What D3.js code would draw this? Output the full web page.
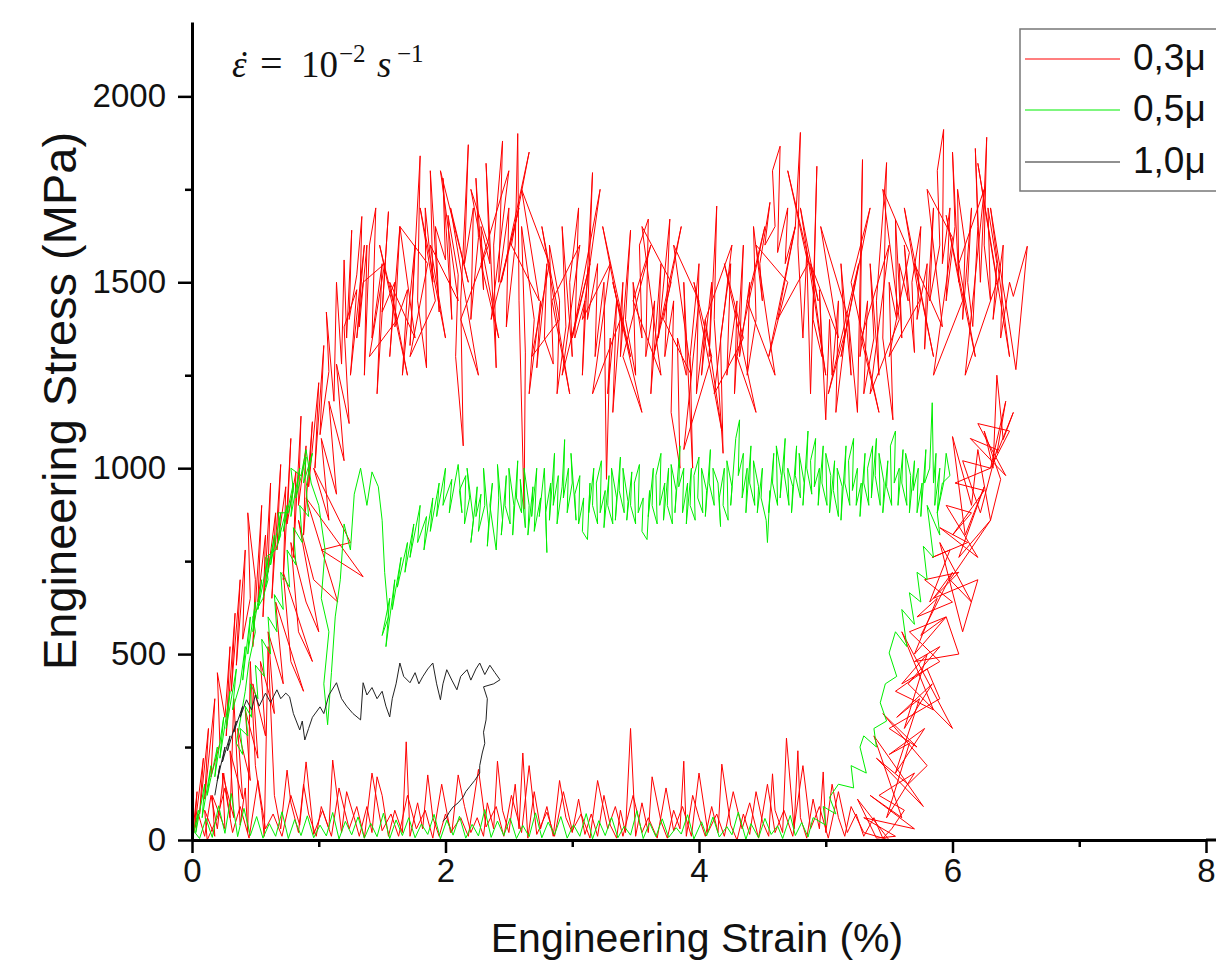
<!DOCTYPE html>
<html>
<head>
<meta charset="utf-8">
<title>Engineering Stress - Strain</title>
<script src="https://d3js.org/d3.v7.min.js"></script>
<style>
  body { margin: 0; background: #fff; }
  svg { display: block; background: #fff; }
  .axis path, .axis line { stroke: #000; }
  .axis text { font-family: "Liberation Sans", Arial, sans-serif; font-size: 33px; fill: #111; }
  .label { font-family: "Liberation Sans", Arial, sans-serif; fill: #111; }
</style>
</head>
<body>
<svg id="chart" width="1216" height="974"></svg>
<script>
// ticks
const xMajor = [0, 2, 4, 6, 8];
const xMinor = [1, 3, 5, 7];
const yMajor = [0, 500, 1000, 1500, 2000];
const yMinor = [250, 750, 1250, 1750];

// legend
const seriesNames = ["0,3μ", "0,5μ", "1,0μ"];
const seriesColors = ["#ff0000", "#00ee00", "#222222"];

// 0,3 µm  (strain %, stress MPa)
const red03 = [
  // loading, left flank
  [0,0],[0.04,130],[0.02,30],[0.09,220],[0.06,70],[0.13,300],[0.1,110],[0.18,380],[0.15,170],[0.22,260],
  [0.2,450],[0.26,330],[0.3,520],[0.27,280],[0.34,610],[0.31,400],[0.38,700],[0.35,470],[0.42,780],[0.4,540],
  [0.46,650],[0.44,880],[0.5,700],[0.48,520],[0.55,900],[0.52,640],[0.58,820],[0.56,600],[0.62,960],[0.6,720],
  [0.66,880],[0.63,650],[0.7,1010],[0.67,780],[0.74,950],[0.72,700],[0.78,1080],[0.75,850],[0.82,990],[0.8,760],
  [0.86,1140],[0.84,900],[0.9,1060],[0.88,820],[0.95,1125],[0.92,950],[1.0,1230],[0.97,1000],[1.04,1330],[1.01,1090],
  [1.08,1260],[1.06,1420],[1.12,1180],[1.14,1500],[1.18,1280],[1.2,1560],[1.22,1350],[1.26,1640],[1.24,1400],[1.3,1520],
  [1.34,1677],[1.32,1380],[1.38,1600],[1.36,1250],
  // plateau, first pass
  [1.4,1600],[1.45,1700],[1.42,1350],[1.5,1550],[1.46,1200],[1.55,1690],[1.5,1420],[1.6,1500],[1.56,1300],[1.64,1650],
  [1.6,1380],[1.7,1480],[1.66,1250],[1.76,1600],[1.72,1330],[1.8,1840],[1.78,1450],[1.85,1270],[1.84,1700],[1.9,1500],
  [1.88,1800],[1.95,1420],[1.92,1650],[2.0,1560],[1.98,1780],[2.05,1400],[2.02,1680],[2.1,1520],[2.08,1300],[2.14,1060],
  [2.12,1450],[2.18,1870],[2.15,1550],[2.22,1700],[2.2,1400],[2.26,1620],[2.24,1780],[2.3,1480],[2.28,1650],[2.35,1550],
  [2.32,1820],[2.4,1270],[2.38,1600],[2.45,1880],[2.42,1500],[2.5,1700],[2.48,1380],[2.55,1600],[2.57,1900],[2.58,1450],
  [2.62,890],[2.63,1310],[2.6,1650],[2.7,1400],[2.66,1200],[2.75,1450],[2.72,1270],[2.8,1550],[2.78,1350],[2.85,1280],
  [2.82,1600],[2.9,1450],[2.88,1200],[2.95,1380],[2.92,1650],[3.0,1300],[2.98,1500],[3.05,1700],[3.02,1350],[3.1,1450],
  [3.08,1250],[3.16,1795],[3.12,1400],[3.2,1550],[3.18,1300],[3.25,1500],[3.27,970],[3.3,1350],[3.28,1200],[3.35,1450],
  [3.32,1150],[3.4,1500],[3.38,1300],[3.46,1640],[3.42,1400],[3.5,1250],[3.48,1500],[3.55,1350],[3.53,1600],[3.6,1670],
  [3.58,1300],[3.65,1450],[3.62,1200],[3.7,1550],[3.68,1350],[3.77,1670],[3.73,1300],[3.8,1450],[3.78,1150],[3.85,1000],
  [3.83,1350],[3.9,1250],[3.88,1500],[3.95,1000],[3.93,1300],[4.0,1550],[3.98,1200],[4.05,1400],[4.02,1250],[4.1,1500],
  [4.08,1300],[4.14,1705],[4.12,1400],[4.19,1040],[4.17,1350],[4.25,1550],[4.22,1250],[4.3,1450],[4.28,1200],[4.35,1600],
  [4.32,1300],[4.4,1500],[4.38,1250],[4.45,1400],[4.43,1650],[4.5,1450],[4.48,1550],[4.56,1715],[4.52,1600],[4.6,1650],
  [4.58,1800],[4.64,1866],[4.62,1580],[4.7,1700],[4.68,1550],[4.76,1650],[4.8,1903],[4.78,1600],[4.82,1350],[4.85,1580],
  [4.88,1200],[4.93,1812],[4.9,1400],[4.97,1300],[4.95,1480],[5.0,1130],[5.03,1400],[5.05,1250],[5.1,1450],[5.08,1150],
  [5.15,1350],[5.12,1550],[5.2,1250],[5.18,1400],[5.25,1150],[5.29,1830],[5.27,1300],[5.33,1450],[5.3,1200],[5.38,1350],
  [5.35,1550],[5.42,1250],[5.4,1450],[5.48,1822],[5.45,1350],[5.53,1130],[5.5,1500],[5.56,1400],[5.55,1670],[5.6,1350],
  [5.58,1550],[5.65,1450],[5.62,1600],[5.7,1311],[5.68,1500],[5.75,1650],[5.72,1400],[5.8,1550],[5.78,1320],[5.85,1700],
  [5.82,1450],[5.9,1600],[5.88,1800],[5.93,1911],[5.92,1550],[5.98,1700],[5.95,1450],[6.02,1650],[6.0,1850],[6.05,1500],
  [6.04,1750],[6.1,1600],[6.08,1400],[6.15,1700],[6.12,1500],[6.16,1381],[6.2,1650],[6.18,1860],[6.22,1500],[6.27,1890],
  [6.25,1600],[6.3,1450],[6.28,1700],[6.35,1550],[6.32,1400],[6.4,1600],[6.38,1350],[6.45,1500],[6.48,1462],[6.59,1597],
  [6.5,1265],[6.45,1380],
  // plateau, second pass (back)
  [6.3,1700],[6.45,1300],[6.2,1820],[6.35,1500],[6.1,1250],[6.25,1750],[6.05,1550],[6.18,1300],[5.95,1680],[6.08,1450],
  [5.85,1250],[6.0,1620],[5.8,1750],[5.92,1380],[5.7,1550],[5.85,1300],[5.62,1700],[5.74,1450],[5.5,1300],[5.66,1580],
  [5.45,1750],[5.58,1400],[5.35,1200],[5.5,1600],[5.28,1350],[5.42,1150],[5.2,1500],[5.35,1700],[5.12,1300],[5.26,1550],
  [5.02,1200],[5.18,1400],[4.96,1650],[5.1,1350],[4.88,1550],[5.0,1250],[4.8,1700],[4.94,1450],[4.7,1800],[4.86,1550],
  [4.62,1400],[4.76,1650],[4.55,1300],[4.7,1500],[4.45,1600],[4.6,1250],[4.38,1450],[4.52,1650],[4.3,1300],[4.45,1150],
  [4.2,1550],[4.35,1350],[4.12,1200],[4.26,1600],[4.05,1400],[4.18,1100],[3.96,1500],[4.1,1300],[3.88,1050],[4.0,1450],
  [3.8,1600],[3.94,1250],[3.72,1400],[3.86,1650],[3.64,1300],[3.78,1500],[3.55,1650],[3.7,1250],[3.48,1450],[3.62,1600],
  [3.4,1300],[3.55,1150],[3.32,1500],[3.46,1300],[3.24,1650],[3.38,1400],[3.16,1200],[3.3,1550],[3.08,1400],[3.22,1750],
  [3.0,1350],[3.14,1550],[2.92,1250],[3.06,1600],[2.84,1450],[2.98,1200],[2.76,1650],[2.9,1400],[2.68,1300],[2.82,1550],
  [2.6,1750],[2.74,1450],[2.52,1600],[2.66,1850],[2.44,1500],[2.58,1700],[2.36,1400],[2.5,1800],[2.28,1550],[2.42,1350],
  [2.2,1750],[2.34,1600],[2.12,1400],[2.26,1250],[2.04,1700],[2.18,1500],[1.96,1800],[2.1,1450],[1.88,1600],[2.0,1350],
  [1.8,1700],[1.92,1450],[1.72,1300],[1.86,1550],[1.64,1650],[1.76,1350],[1.56,1500],[1.7,1250],[1.48,1600],[1.62,1400],
  [1.4,1300],[1.52,1550],[1.35,1500],
  // left flank, back down
  [1.3,1350],[1.36,1600],[1.25,1250],[1.3,1480],[1.2,1380],[1.24,1120],[1.14,1280],[1.2,1020],[1.08,1180],[1.14,930],
  [1.02,1080],[1.08,860],[0.96,1000],[1.25,800],[1.02,780],[1.35,708],[0.9,920],[1.15,640],[0.96,700],[0.84,860],
  [1.0,560],[0.9,640],[0.78,800],[0.84,560],[0.95,480],[0.72,720],[0.78,480],[0.88,400],[0.66,640],[0.72,420],
  [0.6,560],[0.65,340],[0.54,480],[0.58,280],[0.48,420],[0.52,220],
  [0.42,350],[0.46,160],[0.36,300],[0.4,110],[0.3,240],[0.33,60],[0.24,180],[0.26,30],[0.16,120],[0.18,10],
  [0.1,80],[0.12,0],
  // bottom, going right
  [0.2,60],[0.26,140],[0.32,20],[0.38,90],[0.45,5],[0.52,160],[0.58,30],[0.64,70],[0.71,10],[0.78,120],
  [0.85,40],[0.9,210],[0.96,15],[1.03,80],[1.1,10],[1.16,140],[1.24,30],[1.3,90],[1.36,5],[1.42,180],
  [1.5,25],[1.57,70],[1.63,10],[1.7,120],[1.77,30],[1.84,80],[1.9,5],[1.97,150],[2.04,20],[2.12,60],
  [2.18,10],[2.26,190],[2.32,35],[2.4,90],[2.46,10],[2.52,120],[2.6,20],[2.66,200],[2.72,15],[2.8,75],
  [2.86,10],[2.93,130],[3.0,25],[3.07,70],[3.14,5],[3.2,160],[3.28,30],[3.34,90],[3.4,10],[3.48,120],
  [3.55,20],[3.6,60],[3.67,5],[3.74,140],[3.8,25],[3.87,90],[3.94,10],[4.0,180],[4.07,20],[4.14,70],
  [4.2,10],[4.27,130],[4.34,30],[4.4,100],[4.47,5],[4.54,150],[4.6,20],[4.67,80],[4.74,10],[4.82,200],
  [4.88,30],[4.95,90],[5.02,5],[5.1,130],[5.17,20],[5.24,70],[5.3,10],[5.38,60],[5.45,5],[5.52,30],
  // right flank, up
  [5.62,80],[5.42,120],[5.7,180],[5.48,60],[5.66,260],[5.5,230],[5.78,300],[5.55,180],[5.74,380],[5.56,330],
  [5.84,420],[5.62,300],[5.8,500],[5.6,420],[5.9,480],[5.66,560],[5.95,600],[5.7,500],[5.88,650],[5.72,600],
  [6.0,640],[5.78,700],[6.05,720],[5.82,640],[5.98,780],[5.84,760],[6.12,800],[5.9,840],[6.2,760],[5.95,900],
  [6.15,880],[6.0,820],[6.25,940],[6.02,960],[6.3,1000],[6.08,1020],[6.22,880],[6.35,1050],[6.14,1080],[6.42,980],
  [6.2,1120],[6.45,1100],[6.3,1000],[6.42,1180],[6.35,1040],[6.48,1150],[6.4,1077],[6.35,1250],
  // right flank, down
  [6.32,1000],[6.25,1100],[6.38,970],[6.3,860],[6.2,1050],[6.15,900],[6.0,1085],[6.1,820],[6.25,950],[6.05,760],
  [6.3,860],[5.98,700],[6.15,640],[5.9,800],[6.08,560],[6.2,700],[5.85,650],[6.0,720],[5.75,550],[5.95,600],
  [6.05,500],[5.7,480],[5.9,520],[5.65,420],[6.0,300],[5.6,560],[5.85,350],[5.55,400],[5.8,460],[5.9,380],
  [5.5,300],[5.72,250],[5.45,340],[5.8,200],[5.65,150],[5.4,220],[5.77,90],[5.38,280],[5.6,60],[5.35,120],
  [5.7,30],[5.3,60],[5.55,10],[5.4,5],[5.25,110],[5.5,0],
  // bottom, going left
  [5.3,20],[5.2,90],[5.15,10],[5.1,60],[5.05,150],[5.0,20],[4.98,183],[4.95,30],[4.9,110],[4.85,5],
  [4.8,60],[4.78,240],[4.75,30],[4.69,274],[4.66,20],[4.6,80],[4.58,178],[4.55,10],[4.5,50],[4.45,130],
  [4.4,15],[4.35,70],[4.3,0],[4.25,40],[4.18,204],[4.15,20],[4.1,90],[4.05,10],[4.0,60],[3.95,120],
  [3.9,10],[3.88,212],[3.85,30],[3.8,80],[3.75,5],[3.7,50],[3.63,170],[3.6,20],[3.55,100],[3.5,10],
  [3.46,300],[3.42,20],[3.38,80],[3.35,5],[3.3,40],[3.25,120],[3.2,10],[3.15,70],[3.1,15],[3.05,110],
  [3.0,20],[2.95,60],[2.9,160],[2.85,10],[2.8,90],[2.75,30],[2.7,130],[2.65,5],[2.61,234],[2.58,30],
  [2.55,150],[2.5,20],[2.45,80],[2.41,212],[2.38,30],[2.33,100],[2.3,10],[2.25,60],[2.2,20],[2.15,90],
  [2.1,175],[2.05,20],[2.0,70],[1.95,10],[1.9,60],[1.86,175],[1.82,30],[1.78,100],[1.72,10],[1.69,264],
  [1.66,20],[1.6,80],[1.55,10],[1.5,120],[1.46,170],[1.42,20],[1.38,90],[1.32,10],[1.28,60],[1.22,130],
  [1.18,20],[1.11,215],[1.08,30],[1.02,90],[0.98,10],[0.92,70],[0.88,150],[0.84,20],[0.78,100],[0.75,188],
  [0.7,30],[0.65,120],[0.6,520],[0.57,10],[0.55,80],[0.5,200],[0.46,480],[0.44,20],[0.42,140],[0.38,40],
  [0.33,380],[0.3,60],[0.25,180],[0.2,30],[0.15,120],[0.1,10],[0.05,70],[0,0]
];

// 0,5 µm
const green05 = [
  [0,0],[0.05,80],[0.03,20],[0.1,150],[0.08,60],[0.15,200],[0.12,120],[0.2,250],[0.18,170],[0.25,330],
  [0.22,220],[0.3,400],[0.27,300],[0.35,460],[0.32,350],[0.38,420],[0.42,520],[0.4,430],[0.46,600],[0.44,500],
  [0.5,640],[0.48,560],[0.55,700],[0.52,620],[0.6,760],[0.58,680],[0.65,820],[0.62,740],[0.7,880],[0.68,800],
  [0.75,900],[0.72,830],[0.8,960],[0.78,870],[0.85,1000],[0.82,920],[0.9,1030],[0.88,960],[0.95,1040],
  // back down the left flank and up again
  [0.9,950],[0.92,870],[0.85,900],[0.87,800],[0.8,840],[0.82,740],[0.75,780],[0.77,680],[0.7,720],[0.72,620],
  [0.65,660],[0.67,560],[0.6,600],[0.62,500],[0.55,540],[0.57,440],[0.5,470],[0.52,380],[0.46,420],[0.47,330],
  [0.42,360],[0.44,280],[0.38,300],[0.4,230],[0.35,260],[0.42,400],[0.45,480],[0.5,560],[0.48,600],[0.56,650],
  [0.6,700],[0.58,760],[0.66,780],[0.7,820],[0.68,880],[0.76,880],[0.8,940],[0.78,1000],[0.86,980],[0.9,1050],
  [0.94,960],[1.0,900],
  [1.05,780],[1.02,650],[1.08,560],[1.04,420],[1.07,310],[1.1,450],[1.13,600],[1.17,700],[1.2,850],[1.25,780],
  [1.28,930],[1.33,1000],[1.38,900],[1.42,990],[1.47,950],[1.5,860],[1.52,720],[1.55,600],[1.5,550],[1.56,650],
  [1.53,520],[1.6,700],[1.58,620],[1.65,760],[1.62,680],[1.7,800],[1.68,720],[1.75,850],[1.72,760],[1.8,900],
  [1.78,800],[1.85,870],[1.83,780],[1.9,920],[1.88,830],[1.95,960],[1.93,870],[2.0,1000],[1.98,900],[2.05,970],
  [2.03,880],
  [2.1,1010],[2.13,880],[2.11,940],[2.16,980],[2.15,850],[2.19,920],[2.17,1000],[2.22,860],[2.2,800],[2.25,950],
  [2.24,870],[2.28,930],[2.26,830],[2.31,900],[2.3,1000],[2.34,850],[2.33,790],[2.37,960],[2.35,900],[2.4,780],
  [2.42,920],[2.41,1010],[2.45,860],[2.44,820],[2.48,980],[2.47,900],[2.51,850],[2.5,1000],[2.54,900],[2.53,820],
  [2.57,1020],[2.56,920],[2.6,880],[2.59,970],[2.63,840],[2.62,1000],[2.66,900],[2.65,820],[2.69,950],[2.68,870],
  [2.72,1000],[2.7,830],[2.75,920],[2.74,870],[2.78,1000],[2.8,773],[2.79,880],[2.83,960],[2.82,860],[2.86,1040],
  [2.85,900],[2.89,980],[2.88,850],[2.92,950],[2.94,1077],[2.93,920],[2.97,1000],[2.96,880],[3.0,960],[2.99,1040],
  [3.03,860],[3.02,930],[3.06,980],[3.05,850],[3.09,920],[3.08,830],[3.12,808],[3.14,960],[3.13,880],[3.17,1000],
  [3.16,900],[3.2,850],[3.19,960],[3.23,1020],[3.22,880],[3.26,940],[3.25,840],[3.29,980],[3.28,900],[3.32,850],
  [3.31,1000],[3.35,920],[3.34,860],[3.38,1030],[3.37,940],[3.41,880],[3.4,1000],[3.44,910],[3.43,860],[3.47,990],
  [3.46,900],[3.5,850],[3.49,960],[3.53,1010],[3.52,880],[3.56,920],[3.55,830],[3.59,808],[3.61,940],[3.6,870],
  [3.64,1000],[3.63,900],[3.67,850],[3.66,980],[3.7,1040],[3.69,900],[3.73,960],[3.72,860],[3.76,1000],[3.75,900],
  [3.79,850],[3.78,1010],[3.82,940],[3.81,880],[3.85,1060],[3.84,950],[3.88,1000],[3.87,880],[3.91,960],[3.9,850],
  [3.94,1000],[3.93,900],[3.97,860],[3.96,980],[4.0,1030],[3.99,920],[4.03,880],[4.02,1000],[4.06,940],[4.05,870],
  [4.09,1050],[4.08,960],[4.12,900],[4.11,1000],[4.15,960],[4.17,843],[4.16,920],[4.2,1000],[4.19,900],[4.23,860],
  [4.22,1020],[4.26,950],[4.25,900],[4.29,1080],[4.32,1130],[4.31,980],[4.35,1040],[4.34,920],[4.38,1000],[4.37,880],
  [4.41,1060],[4.4,960],[4.44,900],[4.43,1020],[4.47,950],[4.46,880],[4.5,1000],[4.49,920],[4.53,860],[4.54,800],
  [4.56,940],[4.55,880],[4.59,1040],[4.58,960],[4.62,900],[4.61,1060],[4.65,980],[4.64,920],[4.68,1080],[4.67,990],
  [4.71,900],[4.7,1000],[4.74,950],[4.73,880],[4.77,1060],[4.76,980],[4.8,920],[4.79,1040],[4.83,960],[4.82,900],
  [4.86,1100],[4.85,1000],[4.89,930],[4.88,1020],[4.92,1080],[4.91,950],[4.95,1000],[4.94,900],[4.98,1060],[4.97,960],
  [5.01,900],[5.0,1040],[5.04,980],[5.03,880],[5.07,1020],[5.06,940],[5.1,870],[5.09,1000],[5.13,950],[5.12,860],
  [5.16,1060],[5.15,960],[5.19,900],[5.18,1020],[5.22,1080],[5.21,940],[5.25,1000],[5.24,900],[5.28,960],[5.27,870],
  [5.31,1040],[5.3,960],[5.34,900],[5.33,1000],[5.37,1060],[5.36,920],[5.4,1080],[5.39,980],[5.43,900],[5.42,1040],
  [5.46,960],[5.45,880],[5.49,1020],[5.48,950],[5.52,900],[5.51,1060],[5.55,1100],[5.54,960],[5.58,1000],[5.57,900],
  [5.61,1050],[5.6,960],[5.64,900],[5.63,1040],[5.67,980],[5.66,880],[5.7,1020],[5.69,940],[5.73,1000],[5.72,880],
  [5.76,960],[5.75,870],[5.79,1050],[5.78,960],[5.82,1000],[5.84,1176],[5.85,960],[5.87,1040],[5.86,900],[5.9,1000],
  [5.88,880],[5.93,960],[5.95,1040],[5.98,980],
  [5.92,960],[5.88,880],[5.9,820],[5.8,900],[5.85,760],[5.77,790],[5.8,700],[5.72,720],[5.75,640],[5.66,665],
  [5.7,580],[5.6,620],[5.64,520],[5.55,560],[5.5,503],[5.56,440],[5.47,420],[5.43,369],[5.48,320],[5.38,300],
  [5.4,250],[5.3,280],[5.27,250],[5.32,180],[5.2,200],[5.22,140],[5.1,150],[5.03,115],[5.08,70],[4.98,90],
  [5.0,40],[4.9,60],
  [4.86,8],[4.81,47],[4.76,12],[4.72,66],[4.66,4],[4.62,38],[4.57,15],[4.52,58],[4.47,6],[4.41,44],
  [4.37,2],[4.31,75],[4.26,14],[4.22,36],[4.16,8],[4.11,62],[4.06,11],[4.02,49],[3.96,3],[3.91,68],
  [3.86,16],[3.82,33],[3.76,7],[3.71,57],[3.66,9],[3.61,46],[3.56,4],[3.51,79],[3.46,13],[3.41,37],
  [3.36,6],[3.31,61],[3.26,12],[3.21,52],[3.16,3],[3.11,71],[3.06,10],[3.01,41],[2.96,5],[2.91,63],
  [2.86,14],[2.81,48],[2.76,6],[2.71,73],[2.66,9],[2.61,39],[2.56,4],[2.51,59],[2.46,12],[2.41,51],
  [2.36,7],[2.31,82],[2.26,11],[2.21,42],[2.16,5],[2.11,64],[2.06,13],[2.01,53],[1.96,3],[1.91,69],
  [1.86,15],[1.81,43],[1.76,6],[1.71,60],[1.66,12],[1.61,54],[1.56,4],[1.51,72],[1.46,9],[1.41,45],
  [1.36,5],[1.31,62],[1.26,14],[1.21,50],[1.16,3],[1.11,74],[1.06,11],[1.01,40],[0.96,6],[0.91,65],
  [0.86,12],[0.81,55],[0.76,4],[0.71,76],[0.66,10],[0.61,44],[0.56,5],[0.51,63],[0.46,12],[0.41,85],
  [0.36,9],[0.31,125],[0.26,18],[0.21,92],[0.16,7],[0.11,58],[0.06,4],[0,30]
];

// 1,0 µm
const black10 = [
  [0.18,120],[0.22,200],[0.2,160],[0.26,250],[0.24,210],[0.3,280],[0.28,240],[0.35,320],[0.33,290],[0.4,360],
  [0.38,330],[0.43,377],[0.47,350],[0.5,390],[0.53,360],[0.58,395],[0.62,370],[0.67,404],[0.7,380],[0.74,395],
  [0.77,385],[0.8,340],[0.85,296],[0.87,320],[0.89,269],[0.92,300],[0.95,330],[1.01,358],[1.04,340],[1.08,390],
  [1.14,423],[1.18,380],[1.22,360],[1.27,340],[1.33,323],[1.35,423],[1.38,390],[1.42,410],[1.46,380],[1.5,400],
  [1.53,360],[1.56,331],[1.58,380],[1.61,420],[1.64,476],[1.67,440],[1.72,423],[1.76,450],[1.79,420],[1.82,439],
  [1.86,460],[1.9,476],[1.93,420],[1.96,377],[1.98,420],[2.01,458],[2.05,430],[2.09,404],[2.12,440],[2.17,458],
  [2.2,430],[2.24,460],[2.27,476],[2.31,445],[2.35,470],[2.39,450],[2.43,431],[2.38,420],[2.3,412],[2.33,380],
  [2.32,323],[2.3,290],[2.31,260],[2.29,234],[2.27,200],[2.27,180],[2.23,160],[2.19,143],[2.16,130],[2.14,116],
  [2.1,100],[2.06,89],[2.03,75],[2.01,62],[1.98,50]
];

const svg = d3.select('#chart');
const x = d3.scaleLinear().domain([0, 8]).range([192, 1206]);
const y = d3.scaleLinear().domain([0, 2200]).range([840, 22]);

const line = d3.line().x(d => x(d[0])).y(d => y(d[1]));

// curves
[red03, green05, black10].forEach((data, i) => {
  svg.append('path')
    .datum(data)
    .attr('d', line)
    .attr('fill', 'none')
    .attr('stroke', seriesColors[i])
    .attr('stroke-width', 1)
    .attr('stroke-linejoin', 'round');
});

// axes
const xAxis = svg.append('g').attr('class', 'axis').attr('transform', 'translate(0,840)')
  .call(d3.axisBottom(x).tickValues(xMajor).tickFormat(d3.format('d')).tickSize(13).tickSizeOuter(0).tickPadding(6));
svg.append('g').attr('class', 'axis').attr('transform', 'translate(0,840)')
  .call(d3.axisBottom(x).tickValues(xMinor).tickFormat('').tickSize(7).tickSizeOuter(0))
  .select('.domain').remove();
xAxis.select('.domain').attr('stroke-width', 3);
svg.append('line').attr('x1', 1206).attr('x2', 1216).attr('y1', 840).attr('y2', 840)
  .attr('stroke', '#000').attr('stroke-width', 3);

const yAxis = svg.append('g').attr('class', 'axis').attr('transform', 'translate(192,0)')
  .call(d3.axisLeft(y).tickValues(yMajor).tickFormat(d3.format('d')).tickSize(14).tickSizeOuter(0).tickPadding(12));
svg.append('g').attr('class', 'axis').attr('transform', 'translate(192,0)')
  .call(d3.axisLeft(y).tickValues(yMinor).tickFormat('').tickSize(7).tickSizeOuter(0))
  .select('.domain').remove();
yAxis.select('.domain').attr('stroke-width', 3);
svg.selectAll('.axis .tick line').attr('stroke-width', 2.5);

// axis titles
svg.append('text').attr('class', 'label')
  .attr('x', 697).attr('y', 952)
  .attr('text-anchor', 'middle').attr('font-size', 41)
  .text('Engineering Strain (%)');
svg.append('text').attr('class', 'label')
  .attr('transform', 'translate(76,401) rotate(-90)')
  .attr('text-anchor', 'middle').attr('font-size', 47)
  .text('Engineering Stress (MPa)');

// strain rate note
const note = svg.append('text')
  .attr('x', 232).attr('y', 77)
  .attr('font-family', '"Liberation Serif", "DejaVu Serif", serif')
  .attr('font-size', 37).attr('fill', '#111');
note.append('tspan').attr('font-style', 'italic').text('ε');
note.append('tspan').attr('x', 236).attr('font-style', 'italic').text('˙');
note.append('tspan').attr('x', 260).attr('font-size', 40).text('=');
note.append('tspan').attr('x', 301).text('10');
note.append('tspan').attr('x', 339).attr('dy', -15).attr('font-size', 25).text('−2');
note.append('tspan').attr('x', 377).attr('dy', 15).attr('font-style', 'italic').text('s');
note.append('tspan').attr('x', 397).attr('dy', -15).attr('font-size', 25).text('−1');

// legend
const legend = svg.append('g');
legend.append('rect')
  .attr('x', 1020).attr('y', 29).attr('width', 240).attr('height', 162)
  .attr('fill', '#fff').attr('stroke', '#777').attr('stroke-width', 1.5);
const rowY = [59, 110, 162];
seriesNames.forEach((name, i) => {
  legend.append('line')
    .attr('x1', 1025).attr('x2', 1120).attr('y1', rowY[i]).attr('y2', rowY[i])
    .attr('stroke', seriesColors[i]).attr('stroke-width', 1.2);
  legend.append('text').attr('class', 'label')
    .attr('x', 1133).attr('y', rowY[i] + 11)
    .attr('font-size', 37)
    .text(name);
});
</script>
</body>
</html>
